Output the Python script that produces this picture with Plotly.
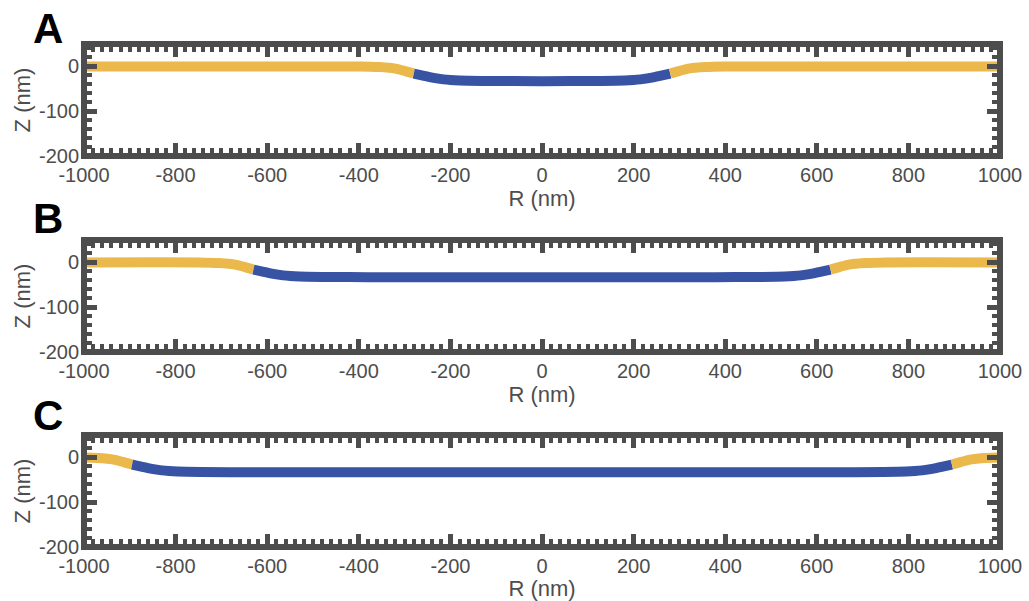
import plotly.graph_objects as go

# ---------------- data ----------------
# Panel A
a_yellow_left_r = [-1000, -400, -355, -320, -300, -280]
a_yellow_left_z = [0, 0, -1.5, -5, -10, -16]
a_blue_r = [-280, -260, -240, -215, -180, -130, 0, 130, 180, 215, 240, 260, 280]
a_blue_z = [-16, -20.5, -25, -29, -31.5, -32.5, -33, -32.5, -31.5, -29, -25, -20.5, -16]
a_yellow_right_r = [280, 300, 320, 355, 400, 1000]
a_yellow_right_z = [-16, -10, -5, -1.5, 0, 0]

# Panel B
b_yellow_left_r = [-1000, -750, -705, -670, -650, -630]
b_yellow_left_z = [0, 0, -1.5, -5, -10, -16]
b_blue_r = [-630, -610, -590, -565, -530, -480, -380, 0, 380, 480, 530, 565, 590, 610, 630]
b_blue_z = [-16, -20.5, -25, -29, -31.5, -32.5, -33, -33, -33, -32.5, -31.5, -29, -25, -20.5, -16]
b_yellow_right_r = [630, 650, 670, 705, 750, 1000]
b_yellow_right_z = [-16, -10, -5, -1.5, 0, 0]

# Panel C
c_yellow_left_r = [-1000, -970, -935, -915, -895]
c_yellow_left_z = [-0.5, -1.5, -5, -10, -16]
c_blue_r = [-895, -875, -855, -830, -795, -745, -645, 0, 645, 745, 795, 830, 855, 875, 895]
c_blue_z = [-16, -20.5, -25, -29, -31.5, -32.5, -33, -33, -33, -32.5, -31.5, -29, -25, -20.5, -16]
c_yellow_right_r = [895, 915, 935, 970, 1000]
c_yellow_right_z = [-16, -10, -5, -1.5, -0.5]

x_tick_vals = [-1000, -800, -600, -400, -200, 0, 200, 400, 600, 800, 1000]
x_tick_text = ["-1000", "-800", "-600", "-400", "-200", "0", "200", "400", "600", "800", "1000"]
y_tick_vals = [-200, -100, 0]
y_tick_text = ["-200", "-100", "0"]

panel_labels = ["A", "B", "C"]
x_title = "R (nm)"
y_title = "Z (nm)"

# ---------------- styling ----------------
YELLOW = "#EAB84B"
BLUE = "#3953A4"
FRAME = "#4D4D4D"
TEXT = "#4D4D4D"
FONT = "Liberation Sans, Arial, Helvetica, sans-serif"

panels = [
    [(a_yellow_left_r, a_yellow_left_z, YELLOW), (a_blue_r, a_blue_z, BLUE), (a_yellow_right_r, a_yellow_right_z, YELLOW)],
    [(b_yellow_left_r, b_yellow_left_z, YELLOW), (b_blue_r, b_blue_z, BLUE), (b_yellow_right_r, b_yellow_right_z, YELLOW)],
    [(c_yellow_left_r, c_yellow_left_z, YELLOW), (c_blue_r, c_blue_z, BLUE), (c_yellow_right_r, c_yellow_right_z, YELLOW)],
]

W, H = 1029, 601
ML, MR, MT, MB = 84, 29, 44, 54
ph = H - MT - MB
frames = [(44, 156), (240, 352), (435, 547)]
domains = [[(H - MB - b) / ph, (H - MB - t) / ph] for (t, b) in frames]

fig = go.Figure()
for i, traces in enumerate(panels):
    n = "" if i == 0 else str(i + 1)
    for r, z, col in traces:
        fig.add_trace(go.Scatter(
            x=r, y=z, mode="lines",
            line=dict(color=col, width=10, shape="spline", smoothing=0.7),
            xaxis="x" + n, yaxis="y" + n, showlegend=False, hoverinfo="skip"))

layout = dict(
    width=W, height=H,
    margin=dict(l=ML, r=MR, t=MT, b=MB, autoexpand=False),
    paper_bgcolor="white", plot_bgcolor="white",
    font=dict(family=FONT, color=TEXT),
    showlegend=False,
)

for i in range(3):
    n = "" if i == 0 else str(i + 1)
    layout["xaxis" + n] = dict(
        domain=[0, 1], anchor="y" + n, range=[-1000, 1000], automargin=False,
        tickmode="array", tickvals=x_tick_vals, ticktext=x_tick_text,
        ticks="inside", ticklen=13, tickwidth=4.5, tickcolor=FRAME,
        mirror="allticks", showline=False, showgrid=False, zeroline=False,
        minor=dict(tickmode="linear", tick0=0, dtick=20, ticks="inside", ticklen=8,
                   tickwidth=3.5, tickcolor=FRAME, showgrid=False),
        tickfont=dict(size=20, color=TEXT, family=FONT),
        ticklabelstandoff=5,
        title=dict(text=x_title, font=dict(size=22, color=TEXT, family=FONT), standoff=0),
    )
    layout["yaxis" + n] = dict(
        domain=domains[i], anchor="x" + n, range=[-200, 50], automargin=False,
        tickmode="array", tickvals=y_tick_vals, ticktext=y_tick_text,
        ticks="inside", ticklen=13, tickwidth=4.5, tickcolor=FRAME,
        mirror="allticks", showline=False, showgrid=False, zeroline=False,
        minor=dict(tickmode="linear", tick0=0, dtick=20, ticks="inside", ticklen=8,
                   tickwidth=3.5, tickcolor=FRAME, showgrid=False),
        tickfont=dict(size=20, color=TEXT, family=FONT),
        ticklabelstandoff=4,
        title=dict(text=y_title, font=dict(size=22, color=TEXT, family=FONT), standoff=2),
    )

shapes = []
for i in range(3):
    n = "" if i == 0 else str(i + 1)
    shapes.append(dict(type="rect", xref="x" + n + " domain", yref="y" + n + " domain",
                       x0=0, x1=1, y0=0, y1=1, layer="above",
                       line=dict(color=FRAME, width=6), fillcolor="rgba(0,0,0,0)"))
layout["shapes"] = shapes

letter_px_y = [28, 218, 415]
annotations = []
for lab, py in zip(panel_labels, letter_px_y):
    annotations.append(dict(
        text="<b>" + lab + "</b>", showarrow=False,
        xref="paper", yref="paper",
        x=(48 - ML) / (W - ML - MR), y=(H - MB - py) / ph,
        xanchor="center", yanchor="middle",
        font=dict(size=42, color="black", family=FONT)))
layout["annotations"] = annotations

fig.update_layout(**layout)
fig.write_html("out.html", config={"displayModeBar": False},
               post_script="document.body.style.margin='0';")
